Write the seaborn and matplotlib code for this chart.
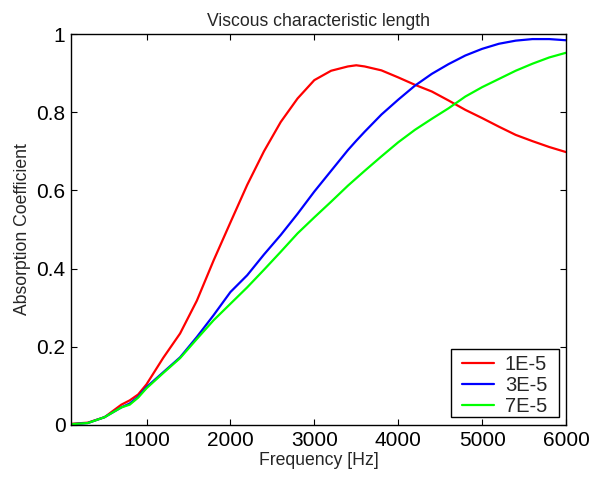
import numpy as np
import pandas as pd
import matplotlib
matplotlib.use("Agg")
import matplotlib.pyplot as plt
from matplotlib.patches import Rectangle
import seaborn as sns

freq = [100, 300, 500, 700, 800, 900, 1000, 1200, 1400, 1600, 1800, 2000, 2200, 2400,
        2600, 2800, 3000, 3200, 3400, 3500, 3600, 3800, 4000, 4200, 4400, 4600, 4800, 5000,
        5200, 5400, 5600, 5800, 6000]
alpha_1e5 = [0.003, 0.006, 0.02, 0.052, 0.063, 0.078, 0.104, 0.172, 0.234, 0.318, 0.421,
             0.518, 0.614, 0.70, 0.775, 0.835, 0.882, 0.906, 0.917, 0.920, 0.917, 0.907, 0.889,
             0.870, 0.853, 0.830, 0.806, 0.785, 0.763, 0.742, 0.726, 0.711, 0.698]
alpha_3e5 = [0.002, 0.005, 0.02, 0.045, 0.055, 0.072, 0.097, 0.135, 0.173, 0.225, 0.281,
             0.340, 0.383, 0.436, 0.486, 0.540, 0.597, 0.650, 0.703, 0.727, 0.750, 0.794, 0.832,
             0.868, 0.898, 0.923, 0.945, 0.962, 0.975, 0.983, 0.987, 0.987, 0.984]
alpha_7e5 = [0.002, 0.005, 0.02, 0.045, 0.052, 0.070, 0.094, 0.133, 0.171, 0.220, 0.268,
             0.310, 0.352, 0.397, 0.443, 0.490, 0.531, 0.571, 0.612, 0.631, 0.650, 0.687, 0.723,
             0.755, 0.783, 0.810, 0.840, 0.864, 0.885, 0.906, 0.924, 0.940, 0.952]
labels = ["1E-5", "3E-5", "7E-5"]
colors = ["#ff0000", "#0000ff", "#00ff00"]
xticks = [1000, 2000, 3000, 4000, 5000, 6000]
yticks = [0, 0.2, 0.4, 0.6, 0.8, 1.0]
yticklabels = ["0", "0.2", "0.4", "0.6", "0.8", "1"]

df = pd.concat([
    pd.DataFrame({"Frequency": freq, "Alpha": vals, "Length": lab})
    for vals, lab in zip([alpha_1e5, alpha_3e5, alpha_7e5], labels)
])

sns.set_style("white")
plt.rcParams["font.family"] = ["Liberation Sans", "DejaVu Sans"]

fig = plt.figure(figsize=(5.94, 4.8), dpi=100)
ax = fig.add_axes([71/594, 1-425/480, (566-71)/594, (425-34)/480])
sns.lineplot(data=df, x="Frequency", y="Alpha", hue="Length", palette=colors,
             hue_order=labels, linewidth=1.6, ax=ax, legend=True)

ax.set_xlim(100, 6000)
ax.set_ylim(0, 1)
ax.set_xticks(xticks)
ax.set_xticklabels([str(t) for t in xticks])
ax.set_yticks(yticks)
ax.set_yticklabels(yticklabels)
ax.tick_params(direction="in", length=4, width=0.8, top=True, right=True,
               labelsize=15, colors="black", pad=4, bottom=True, left=True)
for s in ax.spines.values():
    s.set_color("black")
    s.set_linewidth(1.0)

ax.set_xlabel("Frequency [Hz]", fontsize=12.7, labelpad=2)
ax.set_ylabel("Absorption Coefficient", fontsize=12.7, labelpad=4)
ax.set_title("Viscous characteristic length", fontsize=12.7, pad=6)

# legend entries (frameless) plus a MATLAB-style box
leg = ax.legend(loc="upper left", bbox_to_anchor=(0.789, 0.178), fontsize=14.5,
                frameon=False, handlelength=1.6, borderpad=0, labelspacing=0.08,
                handletextpad=0.55, borderaxespad=0)
ax.add_patch(Rectangle((0.767, 0.0197), 0.218, 0.174, transform=ax.transAxes,
                       facecolor="white", edgecolor="black", linewidth=1.0, zorder=4))
leg.set_zorder(5)

fig.savefig("out.png", dpi=100)
